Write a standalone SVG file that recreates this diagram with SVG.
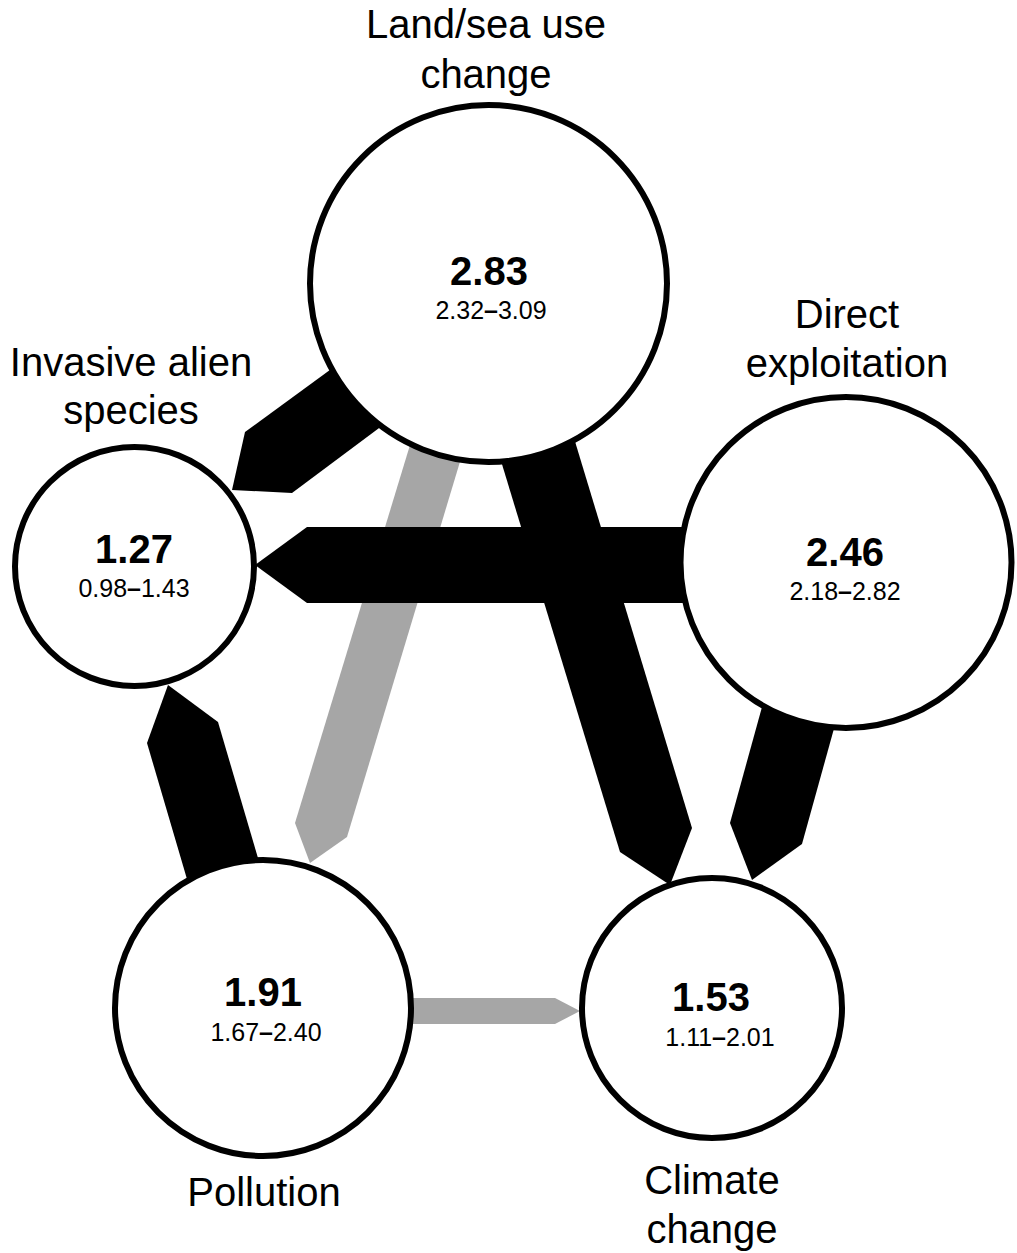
<svg xmlns="http://www.w3.org/2000/svg" width="1017" height="1253" viewBox="0 0 1017 1253">
  <style>
    .node { fill: #ffffff; stroke: #000000; stroke-width: 6; }
    .lbl { font-family: "Liberation Sans", Arial, sans-serif; font-size: 40px; fill: #000; text-anchor: middle; }
    .val { font-family: "Liberation Sans", Arial, sans-serif; font-size: 40px; font-weight: bold; fill: #000; text-anchor: middle; }
    .rng { font-family: "Liberation Sans", Arial, sans-serif; font-size: 25px; fill: #000; text-anchor: middle; }
    .dash { font-weight: bold; }
    .blk { fill: #000000; }
    .gry { fill: #a6a6a6; }
  </style>
  <rect width="1017" height="1253" fill="#ffffff"/>
  <g id="connectors">
    <polygon class="gry" points="431,376 295,823 310,863 347,837 481,392"/>
    <polygon class="gry" points="300,998 555,998 580,1011 555,1024 300,1024"/>
    <polygon class="blk" points="375,337 245,432 232,490 292,493 422,396"/>
    <polygon class="blk" points="846,527 307,527 255,565 307,603 846,603"/>
    <polygon class="blk" points="209,954 147,743 168,685 218,722 280,933"/>
    <polygon class="blk" points="480,392 620,852 670,885 692,828 554,372"/>
    <polygon class="blk" points="781,638 730,823 752,880 802,844 853,660"/>
  </g>
  <g id="node-land">
    <circle class="node" cx="488.5" cy="283.5" r="178.5"/>
    <text class="val" x="489" y="285">2.83</text>
    <text class="rng" x="491" y="319">2.32<tspan class="dash">–</tspan>3.09</text>
    <text class="lbl" x="486" y="38">Land/sea use</text>
    <text class="lbl" x="486" y="88">change</text>
  </g>
  <g id="node-invasive">
    <circle class="node" cx="134.5" cy="566.5" r="119.5"/>
    <text class="val" x="134" y="563">1.27</text>
    <text class="rng" x="134" y="597">0.98<tspan class="dash">–</tspan>1.43</text>
    <text class="lbl" x="131" y="376">Invasive alien</text>
    <text class="lbl" x="131" y="424">species</text>
  </g>
  <g id="node-direct">
    <circle class="node" cx="846" cy="562.5" r="165.5"/>
    <text class="val" x="845" y="566">2.46</text>
    <text class="rng" x="845" y="600">2.18<tspan class="dash">–</tspan>2.82</text>
    <text class="lbl" x="847" y="328">Direct</text>
    <text class="lbl" x="847" y="377">exploitation</text>
  </g>
  <g id="node-pollution">
    <circle class="node" cx="263" cy="1008" r="148"/>
    <text class="val" x="263" y="1006">1.91</text>
    <text class="rng" x="266" y="1041">1.67<tspan class="dash">–</tspan>2.40</text>
    <text class="lbl" x="264" y="1206">Pollution</text>
  </g>
  <g id="node-climate">
    <circle class="node" cx="712" cy="1008" r="130"/>
    <text class="val" x="711" y="1011">1.53</text>
    <text class="rng" x="720" y="1046">1.11<tspan class="dash">–</tspan>2.01</text>
    <text class="lbl" x="712" y="1194">Climate</text>
    <text class="lbl" x="712" y="1243">change</text>
  </g>
</svg>
